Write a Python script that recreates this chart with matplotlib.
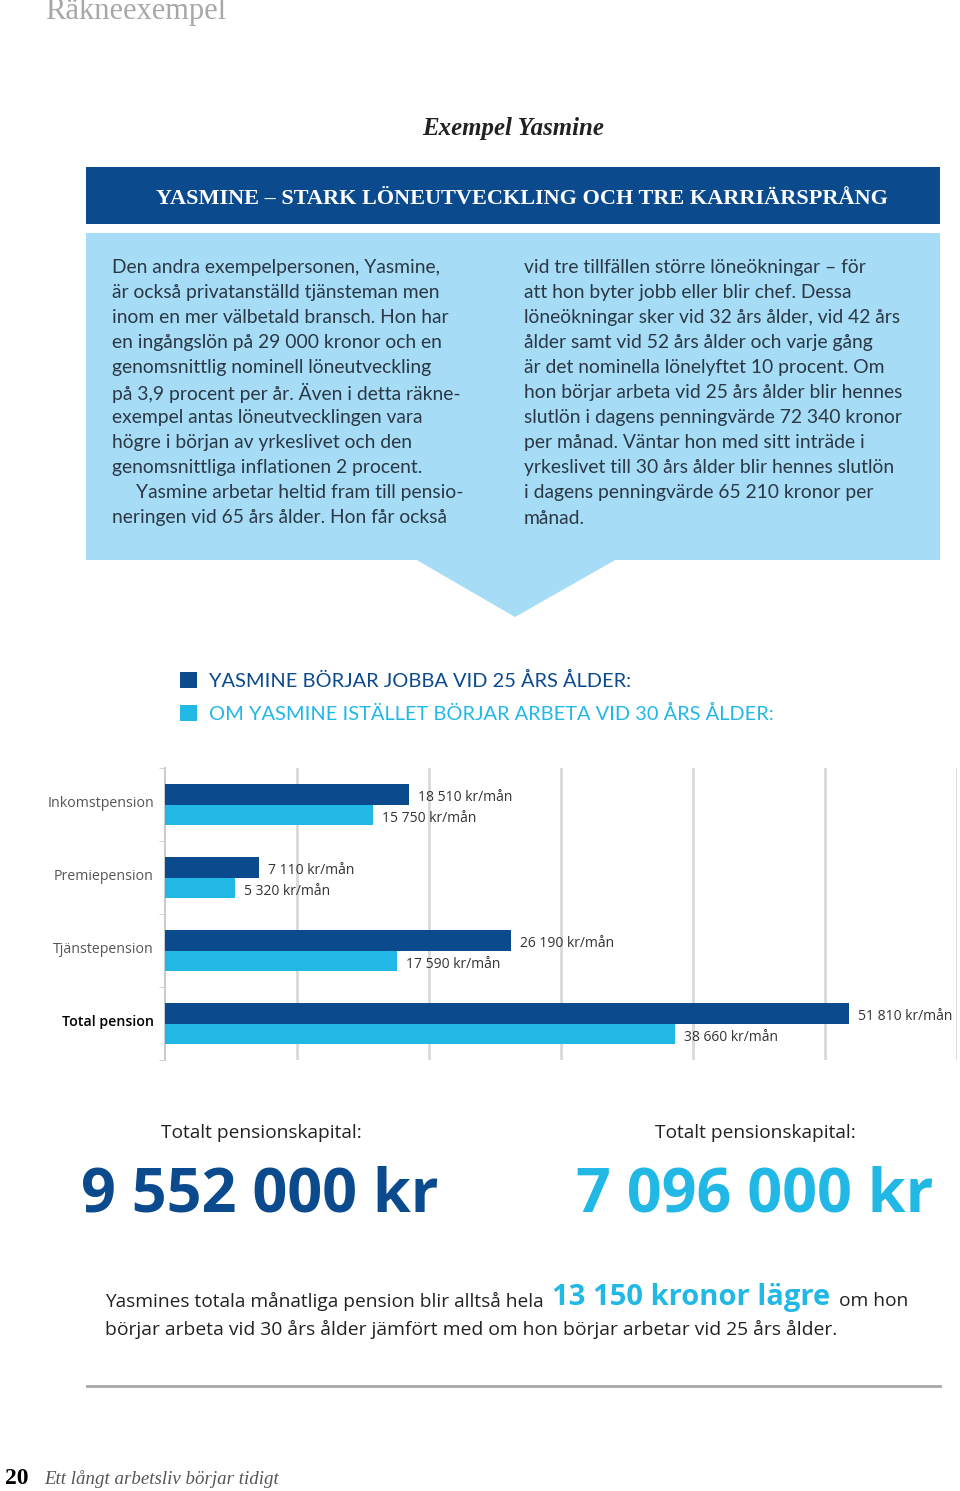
import matplotlib
matplotlib.use("Agg")
import matplotlib.pyplot as plt
from matplotlib.patches import Rectangle, Polygon
import numpy as np

# === Data ===
categories = ["Inkomstpension", "Premiepension", "Tjänstepension", "Total pension"]
start_25 = [18510, 7110, 26190, 51810]
start_30 = [15750, 5320, 17590, 38660]
series_labels = ["YASMINE BÖRJAR JOBBA VID 25 ÅRS ÅLDER:",
                 "OM YASMINE ISTÄLLET BÖRJAR ARBETA VID 30 ÅRS ÅLDER:"]
capital_labels = ["9 552 000 kr", "7 096 000 kr"]
monthly_diff = "13 150 kronor lägre"

left_lines = [
    "Den andra exempelpersonen, Yasmine,",
    "är också privatanställd tjänsteman men",
    "inom en mer välbetald bransch. Hon har",
    "en ingångslön på 29 000 kronor och en",
    "genomsnittlig nominell löneutveckling",
    "på 3,9 procent per år. Även i detta räkne-",
    "exempel antas löneutvecklingen vara",
    "högre i början av yrkeslivet och den",
    "genomsnittliga inflationen 2 procent.",
    "Yasmine arbetar heltid fram till pensio-",
    "neringen vid 65 års ålder. Hon får också",
]
right_lines = [
    "vid tre tillfällen större löneökningar – för",
    "att hon byter jobb eller blir chef. Dessa",
    "löneökningar sker vid 32 års ålder, vid 42 års",
    "ålder samt vid 52 års ålder och varje gång",
    "är det nominella lönelyftet 10 procent. Om",
    "hon börjar arbeta vid 25 års ålder blir hennes",
    "slutlön i dagens penningvärde 72 340 kronor",
    "per månad. Väntar hon med sitt inträde i",
    "yrkeslivet till 30 års ålder blir hennes slutlön",
    "i dagens penningvärde 65 210 kronor per",
    "månad.",
]

# === Colors / fonts ===
DARK = "#0b4a8c"
CYAN = "#22b8e6"
BOX = "#a6dcf5"
TEXT = "#2b3845"
SANS = ["Open Sans", "DejaVu Sans"]
SERIF = ["Liberation Serif", "DejaVu Serif"]

W, H = 960, 1491
fig = plt.figure(figsize=(W / 100, H / 100), dpi=100)
fig.patch.set_facecolor("white")

# overlay in pixel coords
bg = fig.add_axes([0, 0, 1, 1])
bg.set_xlim(0, W)
bg.set_ylim(H, 0)
bg.axis("off")

bg.text(45, 12, "Räkneexempel", fontsize=22, family=SERIF, color="#a8a8a8",
        ha="left", va="center")
bg.text(513, 129, "Exempel Yasmine", fontsize=17.9, family=SERIF, style="italic",
        weight="bold", color="#222222", ha="center", va="center")

bg.add_patch(Rectangle((86, 167), 854, 57, facecolor=DARK, edgecolor="none"))
bg.text(522, 199, "YASMINE – STARK LÖNEUTVECKLING OCH TRE KARRIÄRSPRÅNG",
        fontsize=16, family=SERIF, weight="bold", color="white",
        ha="center", va="center")

bg.add_patch(Rectangle((86, 233), 854, 327, facecolor=BOX, edgecolor="none"))
bg.add_patch(Polygon([(415, 559), (617, 559), (515, 617)], closed=True,
                     facecolor=BOX, edgecolor="none"))

for i, line in enumerate(left_lines):
    x = 136 if line.startswith("Yasmine arbetar") else 112
    bg.text(x, 267 + 25.1 * i, line, fontsize=13.9, family="Lato", color=TEXT,
            ha="left", va="center")
for i, line in enumerate(right_lines):
    bg.text(524, 267 + 25.1 * i, line, fontsize=13.9, family="Lato", color=TEXT,
            ha="left", va="center")

# === Bar chart ===
ax = fig.add_axes([165 / W, 1 - 1060 / H, 792 / W, 292 / H])
ax.set_facecolor("none")
pos = np.arange(len(categories))
h = 0.274
b1 = ax.barh(pos - h / 2, start_25, height=h, color=DARK, zorder=3)
b2 = ax.barh(pos + h / 2, start_30, height=h, color=CYAN, zorder=3)

for bars, vals, dy in [(b1, start_25, -2.5), (b2, start_30, -3)]:
    for rect, v in zip(bars, vals):
        txt = f"{v:,} kr/mån".replace(",", " ")
        ax.annotate(txt, (v, rect.get_y() + rect.get_height() / 2),
                    xytext=(6.5, dy), textcoords="offset points",
                    ha="left", va="center", fontsize=10, family=SANS,
                    color="#333333", zorder=4)

ax.set_xlim(0, 60000)
ax.set_ylim(3.5, -0.5)
ax.set_xticks(np.arange(10000, 60001, 10000))
ax.tick_params(axis="x", length=0, labelbottom=False)
ax.grid(axis="x", color="#d9d9d9", linewidth=2, zorder=0)
ax.set_yticks(pos - 0.045)
ax.set_yticklabels(categories, family=SANS, fontsize=10.2, color="#555555")
ax.get_yticklabels()[-1].set_color("black")
ax.get_yticklabels()[-1].set_weight("semibold")
ax.tick_params(axis="y", length=0, pad=8)
ax.set_yticks([0.5, 1.5, 2.5, -0.5, 3.5], minor=True)
ax.tick_params(axis="y", which="minor", length=4, color="#cccccc")
for s in ["top", "right", "bottom"]:
    ax.spines[s].set_visible(False)
ax.spines["left"].set_color("#cccccc")
ax.spines["left"].set_linewidth(1.5)

# legend
fig.legend([b1, b2], series_labels, loc="upper left",
           bbox_to_anchor=(180 / W, 1 - 672 / H), frameon=False,
           borderpad=0, borderaxespad=0,
           handlelength=0.85, handleheight=0.85, handletextpad=0.6,
           labelspacing=0.72, prop={"family": "Lato", "size": 14.4},
           labelcolor=[DARK, CYAN])

# === Totals ===
bg.text(261, 1133, "Totalt pensionskapital:", fontsize=13.8, family=SANS,
        color="#222222", ha="center", va="center")
bg.text(755, 1133, "Totalt pensionskapital:", fontsize=13.8, family=SANS,
        color="#222222", ha="center", va="center")
bg.text(260, 1212, capital_labels[0], fontsize=44, family=SANS, weight="bold",
        color=DARK, ha="center", va="baseline")
bg.text(755, 1212, capital_labels[1], fontsize=44, family=SANS, weight="bold",
        color=CYAN, ha="center", va="baseline")

renderer = fig.canvas.get_renderer()
t1 = bg.text(105, 1301, "Yasmines totala månatliga pension blir alltså hela ",
             fontsize=13.8, family=SANS, color="#222222", ha="left", va="center")
x1 = bg.transData.inverted().transform(t1.get_window_extent(renderer))[1][0]
t2 = bg.text(x1 + 3, 1298, monthly_diff, fontsize=21, family=SANS, weight="bold",
             color=CYAN, ha="left", va="center")
x2 = bg.transData.inverted().transform(t2.get_window_extent(renderer))[1][0]
bg.text(x2 + 9, 1301, "om hon", fontsize=13.8, family=SANS, color="#222222",
        ha="left", va="center")
bg.text(105, 1329, "börjar arbeta vid 30 års ålder jämfört med om hon börjar arbetar vid 25 års ålder.",
        fontsize=13.9, family=SANS, color="#222222", ha="left", va="center")

bg.plot([87, 940], [1386, 1386], color="#a8a8a8", linewidth=2)

bg.text(5, 1478, "20", fontsize=17, family=SERIF, weight="bold", color="black",
        ha="left", va="center")
bg.text(44, 1479, "Ett långt arbetsliv börjar tidigt", fontsize=13.6, family=SERIF,
        style="italic", color="#555555", ha="left", va="center")

fig.savefig("out.png", dpi=100, facecolor="white")
